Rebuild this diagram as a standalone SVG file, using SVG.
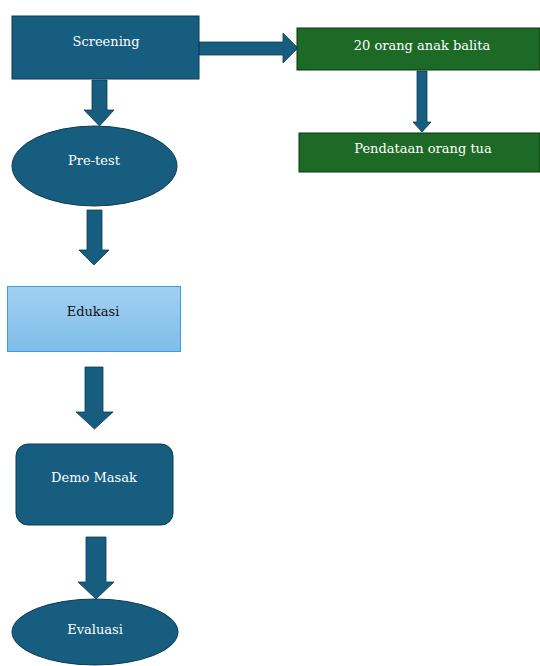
<svg xmlns="http://www.w3.org/2000/svg" width="540" height="666" viewBox="0 0 540 666">
<defs>
<linearGradient id="lb" x1="0" y1="0" x2="0" y2="1">
<stop offset="0" stop-color="#a3d0f3"/>
<stop offset="1" stop-color="#7dbde9"/>
</linearGradient>
</defs>
<style>
.blue{fill:#175d80;stroke:#0e3a52;stroke-width:1}
.green{fill:#1d6a27;stroke:#0b3512;stroke-width:1}
.arrow{fill:#175d80;stroke:#0e3a52;stroke-width:0.8}
.t{font-family:"DejaVu Serif","Liberation Serif",serif;font-size:13px;fill:#ffffff;text-anchor:middle;dominant-baseline:middle}
.tk{fill:#111111}
</style>
<rect width="540" height="666" fill="#ffffff"/>
<g id="connectors">
<polygon class="arrow" points="199,42 283,42 283,33 298,48 283,63 283,55 199,55"/>
<polygon class="arrow" points="92,80 107,80 107,110 114,110 99.5,126 84,110 92,110"/>
<polygon class="arrow" points="417,71 427,71 427,122 431,122 422,132 413,122 417,122"/>
<polygon class="arrow" points="87,210 102,210 102,250 109,250 94,265 79,250 87,250"/>
<polygon class="arrow" points="85,367 103,367 103,412 113,412 94.5,429 76,412 85,412"/>
<polygon class="arrow" points="86,537 106,537 106,582 114,582 96,599 78,582 86,582"/>
</g>
<g id="screening">
<rect class="blue" x="12" y="16" width="187" height="63"/>
<text class="t" x="106" y="42">Screening</text>
</g>
<g id="balita">
<rect class="green" x="297" y="28" width="243" height="42"/>
<text class="t" x="422" y="46">20 orang anak balita</text>
</g>
<g id="pendataan">
<rect class="green" x="299" y="133" width="241" height="39"/>
<text class="t" x="423" y="149">Pendataan orang tua</text>
</g>
<g id="pretest">
<ellipse class="blue" cx="94.5" cy="166" rx="82.5" ry="40"/>
<text class="t" x="94" y="161">Pre-test</text>
</g>
<g id="edukasi">
<rect x="7.5" y="286.5" width="173" height="65" fill="url(#lb)" stroke="#3a9fd8" stroke-width="1"/>
<text class="t tk" x="93" y="312">Edukasi</text>
</g>
<g id="demo">
<rect class="blue" x="16" y="444" width="157" height="81" rx="12" ry="12"/>
<text class="t" x="94" y="478">Demo Masak</text>
</g>
<g id="evaluasi">
<ellipse class="blue" cx="95" cy="632" rx="83" ry="33"/>
<text class="t" x="95" y="630">Evaluasi</text>
</g>
</svg>
